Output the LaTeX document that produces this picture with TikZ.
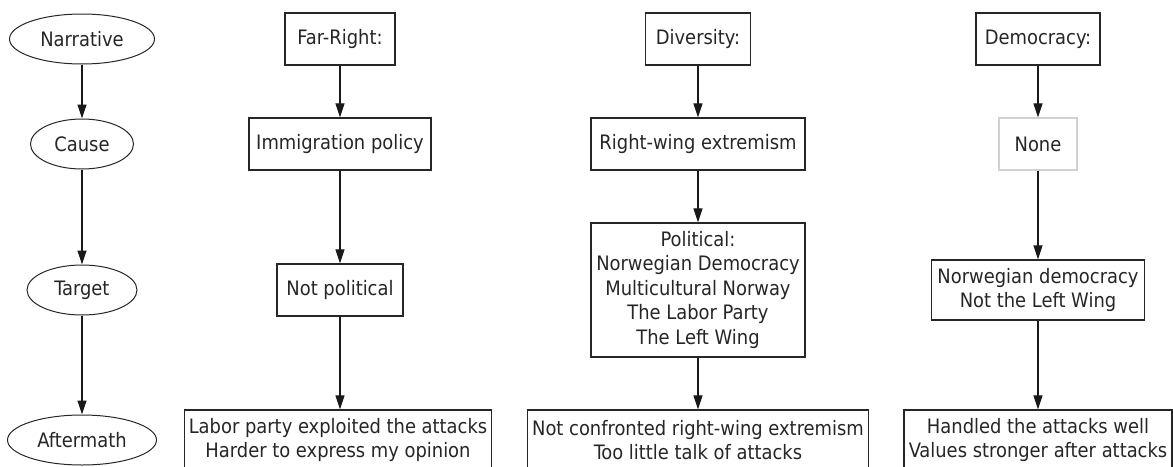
\documentclass[tikz,border=0pt]{standalone}
\usepackage{fontspec}
\setmainfont{DejaVu Sans Condensed}
\usetikzlibrary{shapes.geometric,arrows.meta}
\tikzset{
  stage/.style={ellipse, draw=black!85, line width=1pt, inner sep=0pt, minimum height=50},
  item/.style={rectangle, draw=black!85, line width=1.3pt, inner sep=0pt, align=center, minimum height=52},
  flow/.style={-{Triangle[length=14pt,width=9pt]}, line width=1.2pt, draw=black!90, fill=black!90},
}
\begin{document}
\begin{tikzpicture}[x=1pt, y=-1pt, font=\fontsize{19.9}{24.5}\selectfont, text=black!85]
  \useasboundingbox (0,0) rectangle (1173,466);
  % left column: the stages
  \node[stage, minimum width=145] (narr) at (82,39) {Narrative};
  \node[stage, minimum width=103] (cause) at (82,144) {Cause};
  \node[stage, minimum width=110] (target) at (82,290) {Target};
  \node[stage, minimum width=149] (after) at (82,440) {Aftermath};
  % far-right column
  \node[item, minimum width=110] (far) at (340,39) {Far-Right:};
  \node[item, minimum width=182] (immig) at (340,144) {Immigration policy};
  \node[item, minimum width=126] (notpol) at (340,290) {Not political};
  \node[item, minimum width=307, minimum height=60] (farafter) at (338,440)
    {Labor party exploited the attacks\\Harder to express my opinion};
  % diversity column
  \node[item, minimum width=105] (div) at (698,39) {Diversity:};
  \node[item, minimum width=214] (rwing) at (698,144) {Right-wing extremism};
  \node[item, minimum width=214, minimum height=134] (polit) at (698,290)
    {Political:\\Norwegian Democracy\\Multicultural Norway\\The Labor Party\\The Left Wing};
  \node[item, minimum width=341, minimum height=60] (divafter) at (698,440)
    {Not confronted right-wing extremism\\Too little talk of attacks};
  % democracy column
  \node[item, minimum width=124] (dem) at (1038,39) {Democracy:};
  \node[item, draw=black!18, minimum width=78] (none) at (1038,144) {None};
  \node[item, minimum width=213, minimum height=60] (norw) at (1038,290)
    {Norwegian democracy\\Not the Left Wing};
  \node[item, minimum width=268, minimum height=60] (demafter) at (1038,440)
    {Handled the attacks well\\Values stronger after attacks};
  % arrows
  \foreach \a/\b in {narr/cause, cause/target, target/after,
                     far/immig, immig/notpol,
                     div/rwing, rwing/polit, polit/divafter,
                     dem/none, none/norw, norw/demafter}
    \draw[flow] (\a) -- (\b);
  \draw[flow] (notpol) -- (notpol |- farafter.north);
\end{tikzpicture}
\end{document}
